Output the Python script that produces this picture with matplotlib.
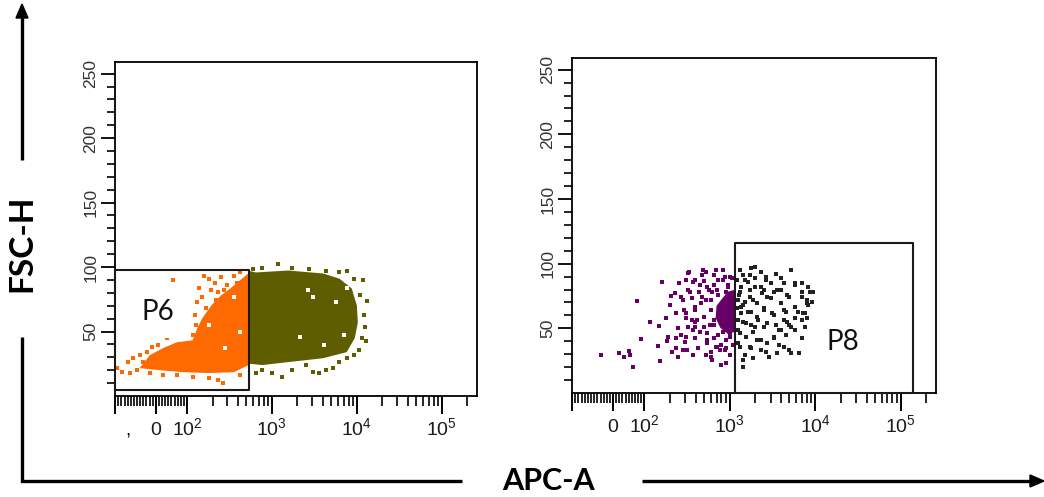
import matplotlib
matplotlib.use("Agg")
import matplotlib.pyplot as plt
from matplotlib import font_manager
from matplotlib.ticker import FixedLocator, NullFormatter, FixedFormatter
from matplotlib.lines import Line2D

_names = {f.name for f in font_manager.fontManager.ttflist}
NARROW = 'Liberation Sans Narrow' if 'Liberation Sans Narrow' in _names else 'Liberation Sans'

plt.rcParams['font.family'] = ['Lato', 'DejaVu Sans']
plt.rcParams['mathtext.fontset'] = 'custom'
plt.rcParams['mathtext.rm'] = NARROW
plt.rcParams['mathtext.it'] = NARROW
plt.rcParams['mathtext.bf'] = NARROW

# ---- colours
ORANGE = '#ff6a00'
OLIVE = '#5e5e00'
PURPLE = '#660066'
DARK = '#222222'

# ---- left plot (P6) : dense cores read as outlines, plus loose events
orange_core_x = [-52, -19, 23, 68, 117, 132, 151, 194, 251, 324, 419, 527, 540, 540, 527, 359, 180, 87, 13, -52]
orange_core_y = [21.6, 31.7, 37.1, 41.7, 43.2, 52.5, 60.2, 70.3, 78, 83.4, 89.6, 95, 95, 26, 23.9, 18.5, 17.8, 18.5, 20, 21.6]

olive_core_x = [540, 647, 1560, 4000, 6240, 8710, 10000, 10280, 9450, 7590, 4000, 1560, 774, 540]
olive_core_y = [97, 95.8, 97.3, 95, 91, 83.4, 70.3, 57, 44.8, 34, 29.3, 26.3, 24, 25]

orange_x = [55, 158, 180, 139, 132, 151, 215, 251, 300, 233, 190, 167, 123, 129, 359, 419, 117,
            -124, -108, -90, -74, -52, -29, -13, 6.5, -19, -84, 22.6, 117, 180, 264, 233, 68, 419,
            35, -42, -61, 388, 464, 341, 285, 441, 501, 271, 221, 171, 147]
orange_y = [89.6, 93.4, 91, 83.4, 72.6, 76.4, 88, 92, 85.7, 80.3, 81.9, 68, 62.5, 54.8, 93.4, 95.8, 47,
            21.6, 18.5, 26.3, 29.3, 31.7, 34, 37.8, 39.4, 17.8, 17.8, 16.2, 14.7, 13.9, 10, 12.4, 16.2, 16.2,
            44.8, 26.3, 20, 88, 85.7, 78, 74.1, 80.3, 91, 81.9, 74.1, 60.2, 51]

olive_x = [599, 774, 1181, 1740, 2720, 4350, 6240, 7590, 9200, 10870, 12200, 12500, 11500, 10570,
           9200, 6240, 5290, 3580, 2500, 1740, 1320, 1000, 774, 647, 4350, 3030, 7590, 13200, 11800, 12900]
olive_y = [98.8, 99.6, 102.7, 99.6, 98.8, 97.3, 95.8, 97.3, 91, 78, 62.5, 53.3, 44.8, 35.5,
           31.7, 26.3, 21.6, 17.8, 24, 20, 14.7, 17.8, 20, 17.8, 20, 18.5, 29.3, 74, 89.6, 43]

# empty spots inside the dense clouds
gap_x = [2640, 3030, 5740, 7590, 2170, 4120, 6970, 359, 180, 277, 419]
gap_y = [82, 76.4, 72.6, 84, 45.6, 39.4, 47, 76.4, 54.8, 37.1, 49.4]

# ---- right plot (P8)
purple_core_x = [700, 795, 946, 1149, 1149, 946, 775, 683]
purple_core_y = [67.4, 72.1, 78.3, 79.8, 47.3, 45.7, 50.4, 58.1]

purple_x = [-38, 19, 34, 50, 53, 63, 75, 88, 116, 150, 154, 162, 179, 198, 203, 231, 236, 249, 249,
            188, 184, 146, 255, 304, 337, 372, 363, 289, 304, 297, 320, 392, 372, 480, 468, 505, 433,
            456, 412, 505, 445, 544, 603, 618, 683, 795, 899, 573, 603, 649, 737, 795, 877, 946, 1000,
            877, 236, 208, 268, 328, 282, 392, 505, 544, 683, 328, 236, 372,
            649, 737, 836, 1028, 1057, 756, 588, 899, 1087, 530, 618, 445, 775, 649, 1000, 530, 392, 836,
            328, 392, 531, 649, 837, 1000, 544, 700, 899, 468, 603, 392, 304, 505, 649, 837, 1000,
            392, 304, 544, 700, 423, 282, 899, 603, 363, 775, 1028, 1087, 268, 345, 737, 946, 1028]
purple_y = [29.5, 31, 27.9, 32.6, 29.5, 20.2, 71.3, 41.9, 55, 51.9, 24.8, 86, 58.1, 68.2, 75.2, 77.5,
            62, 50.4, 27.9, 43.4, 40.3, 36.4, 85.3, 87.6, 93.8, 86, 73.6, 64.3, 58.1, 39.5, 33.3, 42.6,
            29.5, 95.3, 91.5, 86.8, 78.3, 69.8, 56.6, 51.2, 47.3, 38.8, 31.8, 25.6, 95.3, 21.7, 23.3,
            79.8, 64.3, 56.6, 45, 37.2, 89.9, 82.2, 46.5, 33.3, 34.9, 31.8, 45, 51.2, 72.1, 64.3, 58.9,
            46.5, 35.7, 79.8, 42.6, 48.8,
            83.7, 76, 87.6, 72.1, 89.1, 64.3, 52.7, 41.1, 37.2, 72.1, 78.3, 83.7, 33.3, 42.6, 29.5, 29.5, 55, 52.7,
            93, 87.6, 93.8, 91.5, 95.3, 89.9, 82.2, 79.8, 78.3, 74.4, 72.1, 66.7, 62, 58.9, 52.7, 47.3, 43.4,
            51.2, 43.4, 41.1, 35.7, 34.9, 33.3, 34.9, 27.9, 56.6, 62, 66.7, 54.3, 74.4, 78.3, 87.6, 83.7, 74.4]

black_x = [1320, 1434, 1791, 2000, 2300, 2640, 3490, 5280, 4350, 5740, 6970, 8710, 9200, 8250, 7590,
           6970, 5740, 4720, 4000, 3300, 2715, 2300, 3590, 5000, 6400, 1516, 1742, 2057, 1434, 1893,
           1559, 1357, 1516, 1742, 2300, 2715, 3300, 2500, 3120, 4000, 5000, 5740, 6970, 2057, 2500,
           1320, 1357, 1648, 3030, 4000, 4600, 3490, 5740, 6970, 7590, 1249, 2870, 8250, 4600,
           1210, 1290, 1434, 1249, 1648, 1893, 2170, 1791, 1210, 2000, 2500, 4350, 6230, 5000, 8000,
           8000, 3780, 1893, 9400,
           1320, 1742, 1516, 2000, 1320, 1742, 2363, 3030, 3590, 4720, 5740, 6970, 1357, 1791, 2500,
           3300, 4350, 5740, 7160, 1434, 2000, 2715, 3780, 5280, 1559, 2300, 3300, 1791, 2640, 4350,
           1320, 1434, 5280, 7590, 8000, 2640, 4000, 2057, 1249, 1249]
black_y = [95.3, 91.5, 96.9, 97.7, 93.8, 89.9, 92.2, 95.3, 85.3, 85.3, 85.3, 78.3, 70.5, 68.2, 62,
           56.6, 58.1, 55, 48.8, 43.4, 38.8, 33.3, 31, 33.3, 31, 29.5, 35.7, 41.1, 20.2, 47.3,
           54.3, 62, 70.5, 79.8, 82.2, 74.4, 78.3, 65.9, 62, 69.8, 74.4, 66.7, 74.4, 58.9, 51.2,
           46.5, 82.2, 86, 85.3, 79.8, 62.8, 52.7, 48.8, 42.6, 51.2, 38.8, 27.9, 82.2, 45,
           87.6, 76, 68.2, 56.6, 62.8, 72.1, 56.6, 52.7, 65.9, 89.1, 79.8, 56.6, 62.8, 52.7, 58.1,
           72.1, 37.2, 27.1, 78.3,
           95.3, 91.5, 87.6, 82.2, 78.3, 74.4, 77.5, 73.6, 79.8, 76, 83.7, 78.3, 66.7, 62.8, 64.3,
           60.5, 64.3, 58.1, 62, 55, 51.2, 54.3, 48.8, 51.2, 43.4, 41.1, 42.6, 34.9, 31.8, 35.7,
           35.7, 25.6, 31, 51.2, 69.8, 87.6, 89.1, 69.8, 72.1, 48.8]

# gates: (x0, x1, y0, y1)
gate_p6 = (-130, 540, 5, 98)
gate_p8 = (1150, 1.4e5, 0, 116)

# ---- axis ticks
x_major = [-130, 0, 100, 1000, 10000, 100000]
x_minor = ([v for v in range(-120, 100, 10) if v != 0]
           + [200, 300, 400, 500, 600, 700, 800, 900]
           + [2000, 3000, 4000, 5000, 6000, 7000, 8000, 9000]
           + [20000, 30000, 40000, 50000, 60000, 70000, 80000, 90000, 200000])
x_label_pos = [0, 100, 1000, 10000, 100000]
x_label_txt = ['0', r'$10^{2}$', r'$10^{3}$', r'$10^{4}$', r'$10^{5}$']
y_major = [50, 100, 150, 200, 250]
y_minor = [v for v in range(10, 260, 10) if v % 50]

fig = plt.figure(figsize=(10.44, 4.97), dpi=100)
W, H = 1044, 497
DOT = 5.5


def px_axes(x0, y0, x1, y1):
    return fig.add_axes([x0 / W, 1 - y1 / H, (x1 - x0) / W, (y1 - y0) / H])


def style(ax):
    ax.set_xscale('symlog', linthresh=100, linscale=0.33)
    ax.set_xlim(-130, 2.6e5)
    ax.set_ylim(0, 259)
    for s in ax.spines.values():
        s.set_linewidth(1.3)
    ax.xaxis.set_major_locator(FixedLocator(x_major))
    ax.xaxis.set_minor_locator(FixedLocator(x_minor))
    ax.xaxis.set_major_formatter(NullFormatter())
    ax.xaxis.set_minor_formatter(NullFormatter())
    ax.yaxis.set_major_locator(FixedLocator(y_major))
    ax.yaxis.set_minor_locator(FixedLocator(y_minor))
    ax.yaxis.set_major_formatter(FixedFormatter([str(v) for v in y_major]))
    ax.tick_params(axis='x', which='major', length=13, width=1.4, direction='out')
    ax.tick_params(axis='x', which='minor', length=7, width=1.2, direction='out')
    ax.tick_params(axis='y', which='major', length=10, width=1.3, direction='out',
                   pad=2, labelrotation=90, labelsize=12.5, labelcolor='#333333')
    ax.tick_params(axis='y', which='minor', length=6, width=1.2, direction='out')
    for lab in ax.get_yticklabels():
        lab.set_family('Liberation Sans')
        lab.set_va('center')
    tr = ax.get_xaxis_transform()
    for xv, txt in zip(x_label_pos, x_label_txt):
        ax.text(xv, -0.117, txt, transform=tr, ha='center', va='baseline',
                fontsize=14, family=NARROW, color='#1a1a1a')


def gate(ax, g):
    x0, x1, y0, y1 = g
    ax.plot([x0, x1, x1, x0, x0], [y0, y0, y1, y1, y0], color='#1a1a1a', lw=1.5,
            zorder=5, clip_on=False)


# left panel
ax1 = px_axes(115, 62, 477, 396)
style(ax1)
ax1.fill(olive_core_x, olive_core_y, color=OLIVE, lw=0, zorder=2)
ax1.scatter(olive_x, olive_y, s=DOT, marker='s', color=OLIVE, lw=0, zorder=2)
ax1.fill(orange_core_x, orange_core_y, color=ORANGE, lw=0, zorder=3)
ax1.scatter(orange_x, orange_y, s=DOT, marker='s', color=ORANGE, lw=0, zorder=3)
ax1.scatter(gap_x, gap_y, s=DOT, marker='s', color='white', lw=0, zorder=4)
gate(ax1, gate_p6)
ax1.text(0.119, 0.25, 'P6', transform=ax1.transAxes, ha='center', va='center', fontsize=20,
         color='#111111', zorder=6,
         bbox=dict(boxstyle='square,pad=0.45', fc='white', ec='none'))
ax1.text(-90, -0.117, ',', transform=ax1.get_xaxis_transform(), ha='center', va='baseline',
         fontsize=14, family=NARROW)

# right panel
ax2 = px_axes(572, 58, 936, 393)
style(ax2)
ax2.scatter(purple_x, purple_y, s=DOT, marker='s', color=PURPLE, lw=0, zorder=3)
ax2.fill(purple_core_x, purple_core_y, color=PURPLE, lw=0, zorder=3)
ax2.scatter(black_x, black_y, s=DOT, marker='s', color=DARK, lw=0, zorder=3)
gate(ax2, gate_p8)
ax2.text(0.745, 0.152, 'P8', transform=ax2.transAxes, ha='center', va='center', fontsize=20,
         color='#111111', zorder=6)


# outer axis arrows (figure pixels)
def fline(xs, ys):
    fig.add_artist(Line2D([x / W for x in xs], [1 - y / H for y in ys], color='black', lw=2.4,
                          solid_capstyle='butt', solid_joinstyle='miter'))


fline([22, 22], [160, 12])
fline([22, 22, 462], [337, 481, 481])
fline([642, 1034], [481, 481])
fig.add_artist(plt.Polygon([[16 / W, 1 - 18 / H], [28 / W, 1 - 18 / H], [22 / W, 1 - 4 / H]],
                           closed=True, color='black', transform=fig.transFigure))
fig.add_artist(plt.Polygon([[1030 / W, 1 - 475 / H], [1030 / W, 1 - 487 / H], [1044 / W, 1 - 481 / H]],
                           closed=True, color='black', transform=fig.transFigure))
fig.text(22 / W, 1 - 243 / H, 'FSC-H', rotation=90, ha='center', va='center',
         fontsize=24, fontweight='bold')
fig.text(548 / W, 1 - 481 / H, 'APC-A', ha='center', va='center', fontsize=22, fontweight='bold')

fig.savefig('out.png', dpi=100, facecolor='white')
